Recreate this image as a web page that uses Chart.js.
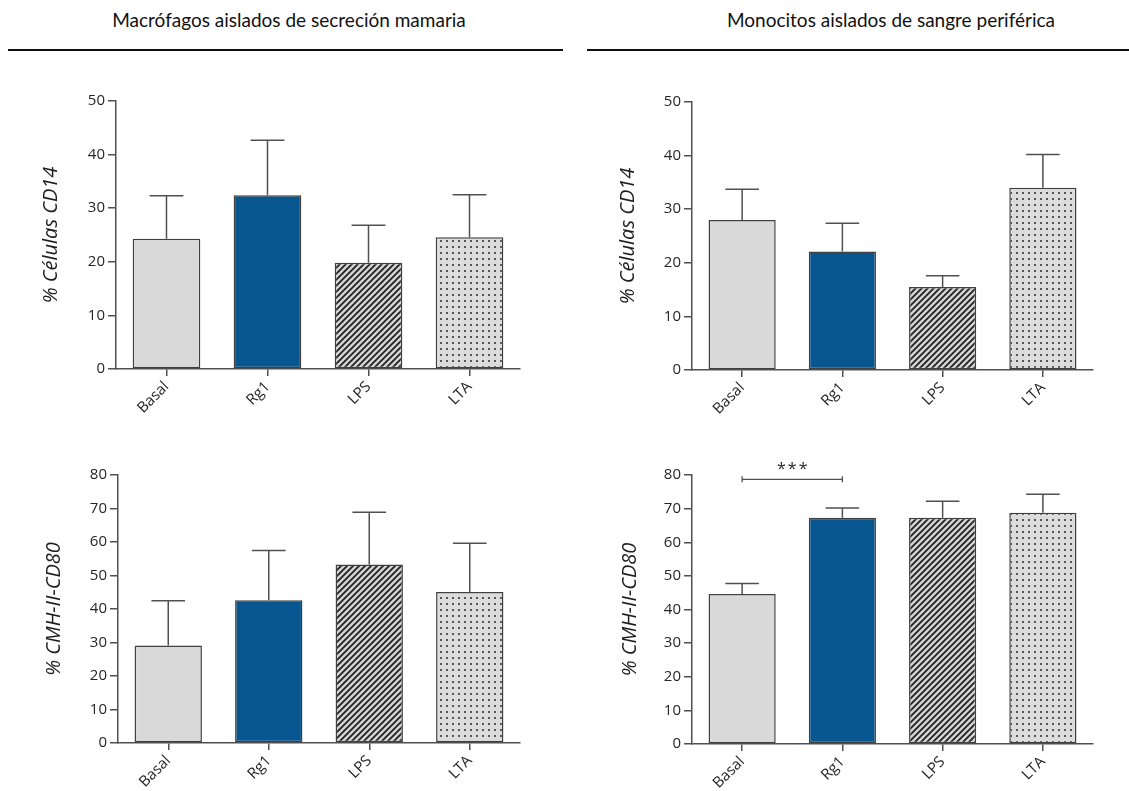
<!DOCTYPE html>
<html>
<head>
<meta charset="utf-8">
<script src="https://cdn.jsdelivr.net/npm/chart.js@4.4.1/dist/chart.umd.min.js"></script>
<style>
  html, body { margin: 0; padding: 0; background: #ffffff; }
  body { width: 1129px; height: 791px; position: relative; overflow: hidden; }
  .title { position: absolute; top: 8px; width: 500px; text-align: center;
           font-family: Lato, "Open Sans", sans-serif; font-size: 19px; color: #111; white-space: nowrap; }
  .rule { position: absolute; top: 49px; height: 1.5px; background: #111; }
  canvas { position: absolute; }
</style>
</head>
<body>
<div class="title" style="left:39px">Macrófagos aislados de secreción mamaria</div>
<div class="rule" style="left:8px;width:555px"></div>
<div class="title" style="left:641px">Monocitos aislados de sangre periférica</div>
<div class="rule" style="left:587px;width:542px"></div>

<canvas id="macCD14" width="560" height="360" style="left:0px;top:70px"></canvas>
<canvas id="monoCD14" width="553" height="360" style="left:576px;top:70px"></canvas>
<canvas id="macCD80" width="560" height="346" style="left:0px;top:445px"></canvas>
<canvas id="monoCD80" width="553" height="346" style="left:576px;top:445px"></canvas>

<script>
// Treatment groups
const categories = ['Basal', 'Rg1', 'LPS', 'LTA'];

// % CD14+ cells (mean and SEM)
const macCD14Mean = [24.3, 32.4, 19.8, 24.6];
const macCD14Sem  = [8.0, 10.3, 7.0, 7.9];
const monoCD14Mean = [28.0, 22.1, 15.5, 34.0];
const monoCD14Sem  = [5.7, 5.3, 2.1, 6.2];

// % MHC-II+ CD80+ cells (mean and SEM)
const macCD80Mean = [29.1, 42.6, 53.3, 45.1];
const macCD80Sem  = [13.4, 14.9, 15.6, 14.5];
const monoCD80Mean = [44.6, 67.3, 67.3, 68.8];
const monoCD80Sem  = [3.1, 2.9, 4.9, 5.5];

// Y axis ranges
const cd14Max = 50;
const cd80Max = 80;

// Significant comparison in monocytes: Basal vs Rg1
const monoCD80Sig = [{ from: 'Basal', to: 'Rg1', level: 78.7, label: '***' }];

const AXIS = '#505050';
const TEXT = '#262626';
const GREY = '#d9d9d9';
const BLUE = '#07568f';

function hatchPattern(ctx) {
  const t = document.createElement('canvas');
  t.width = 6; t.height = 6;
  const g = t.getContext('2d');
  g.fillStyle = '#d2d2d2';
  g.fillRect(0, 0, 6, 6);
  g.strokeStyle = '#1e1e1e';
  g.lineWidth = 1.7;
  g.beginPath();
  g.moveTo(-1, 7); g.lineTo(7, -1);
  g.moveTo(-1, 1); g.lineTo(1, -1);
  g.moveTo(5, 7); g.lineTo(7, 5);
  g.stroke();
  return ctx.createPattern(t, 'repeat');
}

function dotPattern(ctx) {
  const t = document.createElement('canvas');
  t.width = 6; t.height = 6;
  const g = t.getContext('2d');
  g.fillStyle = '#dcdcdc';
  g.fillRect(0, 0, 6, 6);
  g.fillStyle = '#555555';
  g.fillRect(2, 2, 2, 2);
  return ctx.createPattern(t, 'repeat');
}

// Upper error bars (mean + SEM) with caps half the bar width
const errorBars = {
  id: 'errorBars',
  afterDatasetsDraw(chart) {
    const ctx = chart.ctx;
    const y = chart.scales.y;
    chart.data.datasets.forEach((ds, di) => {
      const meta = chart.getDatasetMeta(di);
      meta.data.forEach((bar, i) => {
        const top = y.getPixelForValue(ds.data[i] + ds.errors[i]);
        const cap = bar.width / 4;
        ctx.save();
        ctx.strokeStyle = AXIS;
        ctx.lineWidth = 1.5;
        ctx.beginPath();
        ctx.moveTo(bar.x, bar.y);
        ctx.lineTo(bar.x, top);
        ctx.moveTo(bar.x - cap, top);
        ctx.lineTo(bar.x + cap, top);
        ctx.stroke();
        ctx.restore();
      });
    });
  }
};

// Significance brackets between two groups
const sigBrackets = {
  id: 'sigBrackets',
  afterDatasetsDraw(chart, args, opts) {
    const items = (opts && opts.items) || [];
    const ctx = chart.ctx;
    const x = chart.scales.x, y = chart.scales.y;
    items.forEach(it => {
      const x1 = x.getPixelForValue(categories.indexOf(it.from));
      const x2 = x.getPixelForValue(categories.indexOf(it.to));
      const yy = y.getPixelForValue(it.level);
      ctx.save();
      ctx.strokeStyle = AXIS;
      ctx.lineWidth = 1.3;
      ctx.beginPath();
      ctx.moveTo(x1, yy); ctx.lineTo(x2, yy);
      ctx.moveTo(x1, yy - 3); ctx.lineTo(x1, yy + 3);
      ctx.moveTo(x2, yy - 3); ctx.lineTo(x2, yy + 3);
      ctx.stroke();
      ctx.fillStyle = TEXT;
      ctx.font = '16px "Open Sans", sans-serif';
      ctx.letterSpacing = '2px';
      ctx.textAlign = 'center';
      ctx.textBaseline = 'bottom';
      ctx.fillText(it.label, (x1 + x2) / 2 + 1, yy - 2);
      ctx.restore();
    });
  }
};

function makePanel(id, means, sems, yMax, yTitle, geom, brackets) {
  const canvas = document.getElementById(id);
  const ctx = canvas.getContext('2d');
  return new Chart(ctx, {
    type: 'bar',
    data: {
      labels: categories,
      datasets: [{
        data: means,
        errors: sems,
        backgroundColor: [GREY, BLUE, hatchPattern(ctx), dotPattern(ctx)],
        borderColor: '#404040',
        borderWidth: 1.5,
        borderSkipped: false,
        barPercentage: 0.67,
        categoryPercentage: 1.0
      }]
    },
    options: {
      responsive: false,
      animation: false,
      events: [],
      layout: { padding: { left: 0, right: geom.padRight, top: geom.padTop, bottom: 0 } },
      plugins: {
        legend: { display: false },
        tooltip: { enabled: false },
        sigBrackets: { items: brackets || [] }
      },
      scales: {
        x: {
          offset: true,
          grid: { display: true, offset: false, drawOnChartArea: false, drawTicks: true,
                  tickLength: 7, color: AXIS, lineWidth: 1.5 },
          border: { display: true, color: AXIS, width: 1.5 },
          ticks: { minRotation: 45, maxRotation: 45, padding: 2, color: TEXT,
                   font: { family: '"Open Sans", sans-serif', size: 15 } },
          afterFit(s) { s.height = geom.xHeight; }
        },
        y: {
          min: 0, max: yMax,
          ticks: { stepSize: 10, padding: 3, color: TEXT,
                   font: { family: '"Open Sans", sans-serif', size: 15 } },
          grid: { drawOnChartArea: false, drawTicks: true, tickLength: 8, color: AXIS, lineWidth: 1.5 },
          border: { display: true, color: AXIS, width: 1.5 },
          title: { display: true, text: yTitle, color: '#1e1e1e',
                   font: { family: '"Open Sans", sans-serif', size: 20, style: 'italic' },
                   padding: { top: geom.titlePad, bottom: 0 } },
          afterFit(s) { s.width = geom.yWidth; }
        }
      }
    },
    plugins: [errorBars, sigBrackets]
  });
}

makePanel('macCD14', macCD14Mean, macCD14Sem, cd14Max, '% Células CD14',
  { yWidth: 116, padRight: 40, padTop: 31, xHeight: 61, titlePad: 39 });
makePanel('monoCD14', monoCD14Mean, monoCD14Sem, cd14Max, '% Células CD14',
  { yWidth: 116, padRight: 36, padTop: 32, xHeight: 60, titlePad: 40 });
makePanel('macCD80', macCD80Mean, macCD80Sem, cd80Max, '% CMH-II-CD80',
  { yWidth: 118, padRight: 40, padTop: 30, xHeight: 48, titlePad: 42 });
makePanel('monoCD80', monoCD80Mean, monoCD80Sem, cd80Max, '% CMH-II-CD80',
  { yWidth: 116, padRight: 36, padTop: 30, xHeight: 47, titlePad: 42 }, monoCD80Sig);
</script>
</body>
</html>
